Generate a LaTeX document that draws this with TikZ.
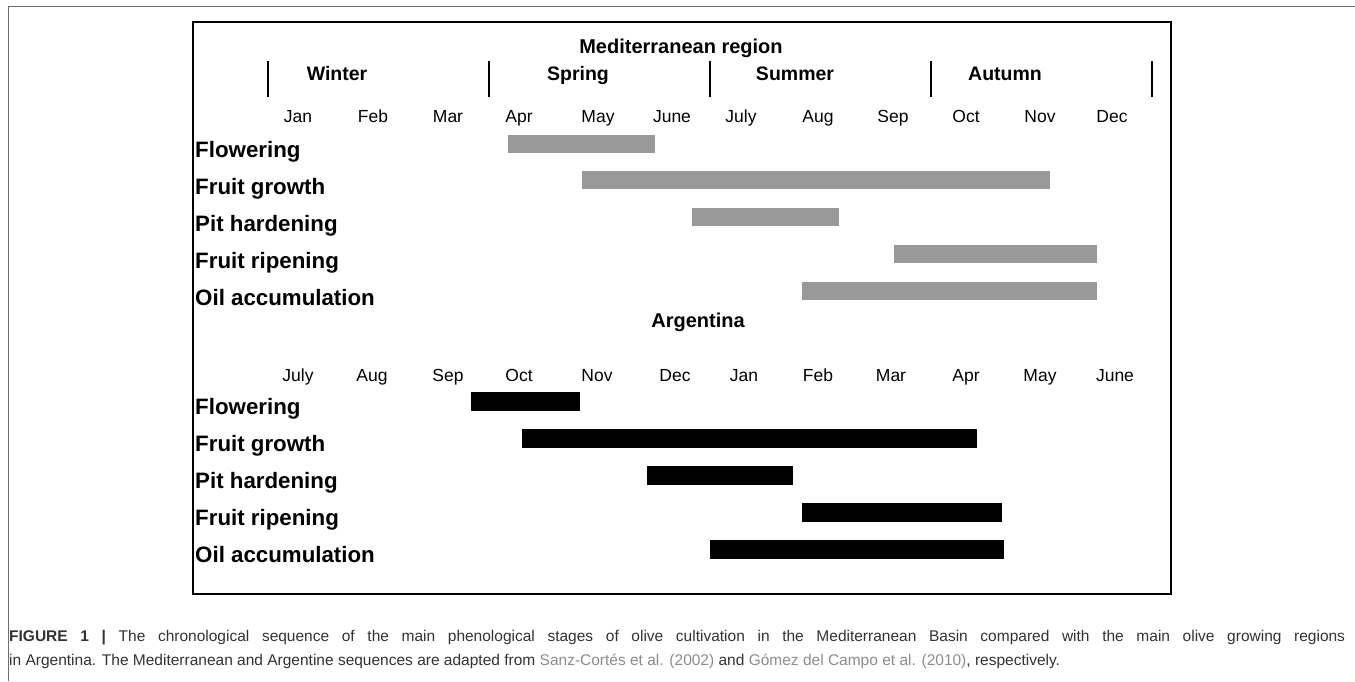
\documentclass[tikz,border=0pt]{standalone}
\usepackage{fontspec}
\setmainfont{Liberation Sans}
\definecolor{barGray}{RGB}{153,153,153}
\definecolor{capText}{RGB}{50,50,50}
\definecolor{citeGray}{RGB}{140,140,140}
\definecolor{frameGray}{RGB}{110,110,110}
\begin{document}
\begin{tikzpicture}[x=1pt,y=-1pt,
  month/.style={font=\fontsize{17.5}{18}\selectfont, anchor=base, inner sep=0pt},
  season/.style={font=\fontsize{19.5}{20}\selectfont\bfseries, anchor=base, inner sep=0pt},
  regiontitle/.style={font=\fontsize{20}{20}\selectfont\bfseries, anchor=base, inner sep=0pt},
  stage/.style={font=\fontsize{22.3}{23}\selectfont\bfseries, anchor=base west, inner sep=0pt},
  tick/.style={line width=2pt},
  gbar/.style={fill=barGray},
  kbar/.style={fill=black},
  caption/.style={font=\fontsize{15.5}{16}\selectfont, text=capText, anchor=base west, inner sep=0pt}
]
\useasboundingbox (0,0) rectangle (1355,681);
% outer frame (top and left only visible)
\draw[frameGray, line width=0.8pt] (1355,6) -- (8,6) -- (8,681);
% inner box
\draw[line width=1.3pt] (193,22) rectangle (1171,594);

% ---- Mediterranean ----
\node[regiontitle] (medtitle) at (681,53) {Mediterranean region};
\foreach \x [count=\i] in {268,489,710,931,1152} {
  \coordinate (ta\i) at (\x,61); \coordinate (tb\i) at (\x,97);
  \draw[tick] (ta\i) -- (tb\i);
}
\node[season] (winter) at (337,80) {Winter};
\node[season] (spring) at (578,80) {Spring};
\node[season] (summer) at (795,80) {Summer};
\node[season] (autumn) at (1005,80) {Autumn};

\foreach \m/\x [count=\i] in {Jan/298,Feb/373,Mar/448,Apr/519,May/598,June/672,July/741,Aug/818,Sep/893,Oct/966,Nov/1040,Dec/1112}
  \node[month] (mm\i) at (\x,122) {\m};

\node[stage] (mflow) at (195,157) {Flowering};
\node[stage] (mgrow) at (195,194) {Fruit growth};
\node[stage] (mpit)  at (195,231) {Pit hardening};
\node[stage] (mripe) at (195,268) {Fruit ripening};
\node[stage] (moil)  at (195,305) {Oil accumulation};

\path[gbar] (508,135) rectangle (655,153);
\path[gbar] (582,171) rectangle (1050,189);
\path[gbar] (692,208) rectangle (839,226);
\path[gbar] (894,245) rectangle (1097,263);
\path[gbar] (802,282) rectangle (1097,300);

% ---- Argentina ----
\node[regiontitle] (argtitle) at (698,327) {Argentina};
\foreach \m/\x [count=\i] in {July/298,Aug/372,Sep/448,Oct/519,Nov/597,Dec/675,Jan/744,Feb/818,Mar/891,Apr/966,May/1040,June/1115}
  \node[month] (am\i) at (\x,381) {\m};

\node[stage] (aflow) at (195,414) {Flowering};
\node[stage] (agrow) at (195,451) {Fruit growth};
\node[stage] (apit)  at (195,488) {Pit hardening};
\node[stage] (aripe) at (195,525) {Fruit ripening};
\node[stage] (aoil)  at (195,562) {Oil accumulation};

\path[kbar] (471,392) rectangle (580,411);
\path[kbar] (522,429) rectangle (977,448);
\path[kbar] (647,466) rectangle (793,485);
\path[kbar] (802,503) rectangle (1002,522);
\path[kbar] (710,540) rectangle (1004,559);

% ---- caption ----
\node[caption] (cap1) at (9,641) {\makebox[1336pt][s]{\textbf{FIGURE 1 |} The chronological sequence of the main phenological stages of olive cultivation in the Mediterranean Basin compared with the main olive growing regions}};
\node[caption] (cap2) at (9,665) {in Argentina. The Mediterranean and Argentine sequences are adapted from \textcolor{citeGray}{Sanz-Cortés et al. (2002)} and \textcolor{citeGray}{Gómez del Campo et al. (2010)}, respectively.};
\end{tikzpicture}
\end{document}
